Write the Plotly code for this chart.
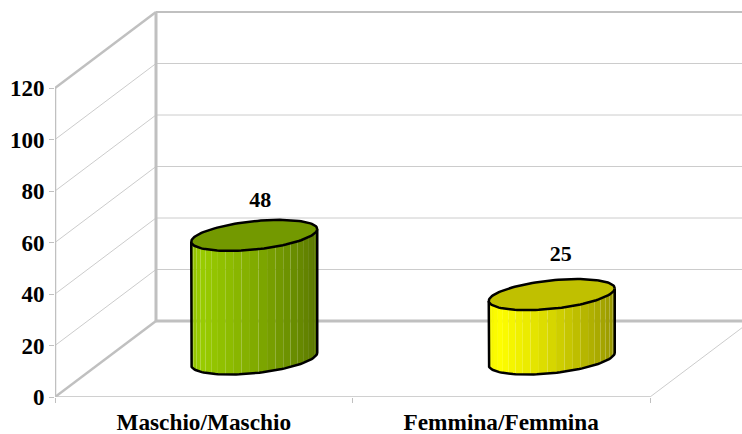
import numpy as np
import plotly.graph_objects as go

categories = ["Maschio/Maschio", "Femmina/Femmina"]
values = [48, 25]
y_ticks = [0, 20, 40, 60, 80, 100, 120]
side_colors = ["#99CC00", "#FFFF00"]
cap_colors = ["#739900", "#C0C000"]

W, H = 742, 434
L, B = 55, 37
px_x = 297.5   # pixels per category
px_y = 2.575   # pixels per value unit
xmax = (W - L) / px_x
ymax = (H - B) / px_y
dx = 101 / px_x
dy = 76 / px_y
GRAY = "#C0C0C0"
GRID = "#CCCCCC"
FONT = "Liberation Serif"

fig = go.Figure()


def line(xs, ys, width, color=GRAY):
    fig.add_trace(go.Scatter(x=xs, y=ys, mode="lines", hoverinfo="skip",
                             line=dict(color=color, width=width), showlegend=False))


# walls and floor
for k in y_ticks:
    line([0, dx, xmax], [k, k + dy, k + dy], 1, GRID)
line([dx, xmax], [dy, dy], 3)
line([dx, xmax], [y_ticks[-1] + dy, y_ticks[-1] + dy], 2)
line([0, dx], [0, dy], 2.5)
line([0, dx], [y_ticks[-1], y_ticks[-1] + dy], 2.5)
line([dx, dx], [dy, y_ticks[-1] + dy], 3)
line([0, 0], [0, y_ticks[-1]], 2.5)
line([0, 2], [0, 0], 1.5)
line([2, 2 + dx], [0, dy], 1, GRID)

# cylinders
rx = 63 / px_x
tilt = 6.3 / px_y
ry = 14.2 / px_y


def shade(hex_color, f):
    r, g, b = (int(hex_color[i:i + 2], 16) for i in (1, 3, 5))
    m = np.interp(f, [0, 0.08, 0.3, 0.5, 0.75, 0.9, 1], [0.95, 1.0, 0.92, 0.84, 0.72, 0.65, 0.58])
    return f"rgb({r * m:.0f},{g * m:.0f},{b * m:.0f})"


def lower_arc(cx, cy, t):
    return cx + rx * np.cos(t), cy + tilt * np.cos(t) - ry * np.sin(t)


for i, v in enumerate(values):
    cx = i + 0.5 + dx / 2
    base = dy / 2
    n = 23
    edges = np.linspace(np.pi, 0, n + 1)
    for j in range(n):
        t = np.linspace(edges[j], edges[j + 1], 5)
        xb, yb = lower_arc(cx, base, t)
        xt, yt = lower_arc(cx, base + v, t)
        pos = (1 + np.cos((edges[j] + edges[j + 1]) / 2)) / 2
        fig.add_trace(go.Scatter(
            x=np.r_[xb, xt[::-1], xb[0]], y=np.r_[yb, yt[::-1], yb[0]],
            mode="lines", line=dict(width=0), fill="toself",
            fillcolor=shade(side_colors[i], pos),
            hoverinfo="skip", showlegend=False))
    # outline of side
    t = np.linspace(np.pi, 0, 60)
    xb, yb = lower_arc(cx, base, t)
    xs = np.r_[xb[0], xb, xb[-1]]
    ys = np.r_[yb[0] + v, yb, yb[-1] + v]
    line(xs, ys, 2.5, "#000000")
    # top cap
    t = np.linspace(0, 2 * np.pi, 121)
    xc, yc = lower_arc(cx, base + v, t)
    fig.add_trace(go.Scatter(x=xc, y=yc, mode="lines", fill="toself",
                             fillcolor=cap_colors[i],
                             line=dict(color="#000000", width=2.5),
                             hoverinfo="skip", showlegend=False))

# data labels
nudge_x = [0.02, 0.03]
nudge_y = [13.3, 15.2]
fig.add_trace(go.Scatter(
    x=[i + 0.5 + dx / 2 + nudge_x[i] for i in range(len(values))],
    y=[v + dy / 2 + nudge_y[i] for i, v in enumerate(values)],
    text=[str(v) for v in values], mode="text", textposition="middle center",
    textfont=dict(family=FONT, size=22, color="#000000"),
    texttemplate="<b>%{text}</b>", hoverinfo="skip", showlegend=False))

fig.update_layout(
    width=W, height=H, margin=dict(l=L, r=0, t=0, b=B, autoexpand=False),
    paper_bgcolor="white", plot_bgcolor="white", showlegend=False,
    xaxis=dict(range=[0, xmax], showgrid=False, zeroline=False, showline=False,
               tickmode="array", tickvals=[i + 0.5 for i in range(len(categories))],
               ticktext=[f"<b>{c}</b>" for c in categories], ticks="",
               tickfont=dict(family=FONT, size=23.3, color="#000000"),
               ticklabelstandoff=9,
               minor=dict(tickmode="array", tickvals=[0, 1, 2], ticks="outside",
                          ticklen=5, tickcolor=GRAY, tickwidth=1, showgrid=False)),
    yaxis=dict(range=[0, ymax], showgrid=False, zeroline=False, showline=False,
               tickmode="array", tickvals=y_ticks,
               ticktext=[f"<b>{t}</b>" for t in y_ticks], ticks="outside", ticklen=5,
               tickcolor=GRAY, tickwidth=1,
               tickfont=dict(family=FONT, size=23, color="#000000")),
)

fig.write_html("out.html", config={"displayModeBar": False},
               post_script="document.body.style.margin='0';document.documentElement.style.overflow='hidden';")
